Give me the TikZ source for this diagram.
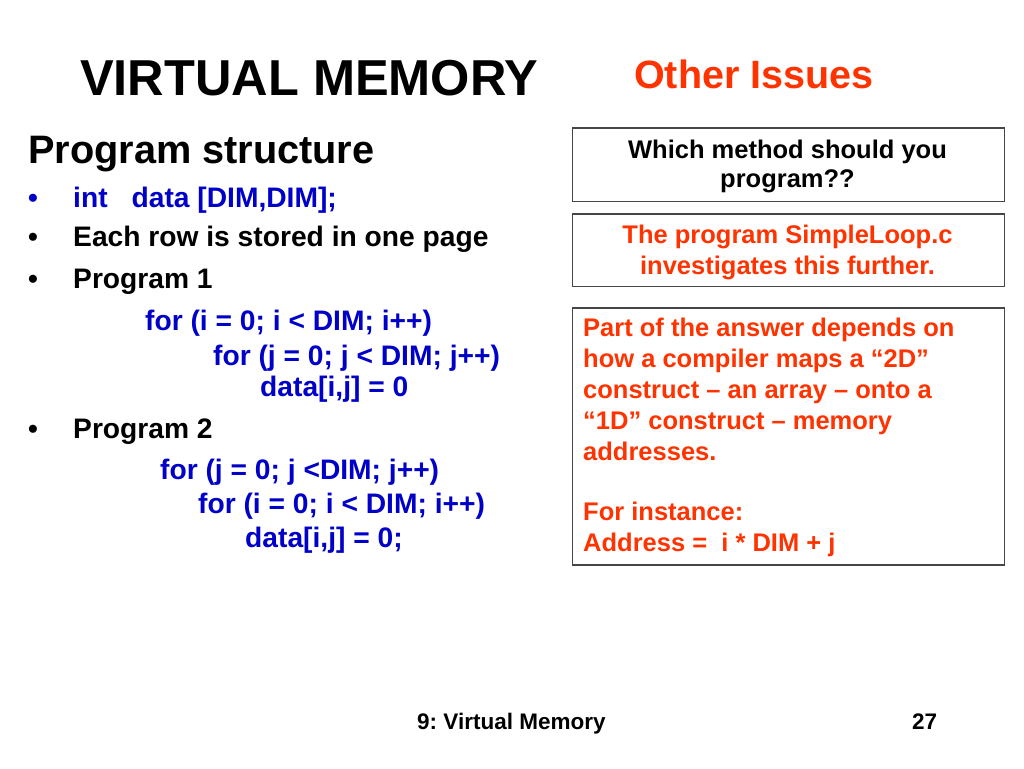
\documentclass[tikz,border=0pt]{standalone}
\usepackage{fontspec}
\setmainfont{Liberation Sans}
\frenchspacing
\definecolor{slred}{RGB}{255,51,0}
\definecolor{slblue}{RGB}{0,0,200}
\definecolor{boxgray}{RGB}{70,70,70}
\begin{document}
\begin{tikzpicture}[x=1pt,y=-1pt,
  txt/.style={anchor=base west, inner sep=0pt, font=\bfseries\fontsize{28.2}{34}\selectfont},
  code/.style={txt, text=slblue},
  bul/.style={anchor=base west, inner sep=0pt, font=\bfseries\fontsize{28}{34}\selectfont},
  btxt/.style={anchor=base, inner sep=0pt, font=\bfseries\fontsize{25.5}{31}\selectfont},
  rtxt/.style={anchor=base west, inner sep=0pt, text=slred, font=\bfseries\fontsize{25.5}{31}\selectfont},
  panel/.style={draw=boxgray, line width=1.3pt, fill=white, anchor=north west, inner sep=0pt}]
\useasboundingbox[fill=white] (0,0) rectangle (1024,768);

% titles
\node[txt, font=\bfseries\fontsize{50.5}{60}\selectfont] (title) at (80,95) {VIRTUAL MEMORY};
\node[txt, text=slred, font=\bfseries\fontsize{39.5}{47}\selectfont] (sub) at (634,88) {Other Issues};

% left column
\node[txt, font=\bfseries\fontsize{39.7}{47}\selectfont] (ps) at (28,163.5) {Program structure};
\node[bul, text=slblue] (b1) at (28,207.5) {•};
\node[code] (l1) at (73,207.5) {int\hspace{24pt}data [DIM,DIM];};
\node[bul] (b2) at (28,246.7) {•};
\node[txt] (l2) at (73,246.7) {Each row is stored in one page};
\node[bul] (b3) at (28,288.3) {•};
\node[txt] (l3) at (73,288.3) {Program 1};
\node[code] (c1) at (145,330) {for (i = 0; i < DIM; i++)};
\node[code] (c2) at (213,365.5) {for (j = 0; j < DIM; j++)};
\node[code] (c3) at (260,396.5) {data[i,j] = 0};
\node[bul] (b4) at (28,438.5) {•};
\node[txt] (l4) at (73,438.5) {Program 2};
\node[code] (c4) at (160,479) {for (j = 0; j <DIM; j++)};
\node[code] (c5) at (198,513.3) {for (i = 0; i < DIM; i++)};
\node[code] (c6) at (245,547.5) {data[i,j] = 0;};

% right column boxes
\node[panel, minimum width=431.5, minimum height=73.5] (box1) at (572,127.3) {};
\node[btxt] (q1) at (787.5,158) {Which method should you};
\node[btxt] (q2) at (787.5,187) {program??};

\node[panel, minimum width=431.5, minimum height=72.5] (box2) at (572,213.3) {};
\node[btxt, text=slred] (s1) at (787.5,243.5) {The program SimpleLoop.c};
\node[btxt, text=slred] (s2) at (787.5,274) {investigates this further.};

\node[panel, minimum width=431.5, minimum height=257] (box3) at (572,307.3) {};
\node[rtxt] (a1) at (583,336.7) {Part of the answer depends on};
\node[rtxt] (a2) at (583,367.7) {how a compiler maps a “2D”};
\node[rtxt] (a3) at (583,398.3) {construct – an array – onto a};
\node[rtxt] (a4) at (583,429) {“1D” construct – memory};
\node[rtxt] (a5) at (583,460) {addresses.};
\node[rtxt] (a6) at (583,520.5) {For instance:};
\node[rtxt] (a7) at (583,551.7) {Address =\ \ i * DIM + j};

% footer
\node[txt, font=\bfseries\fontsize{22.5}{27}\selectfont] (f1) at (417,729) {9: Virtual Memory};
\node[txt, font=\bfseries\fontsize{22.5}{27}\selectfont] (f2) at (912,729) {27};
\end{tikzpicture}
\end{document}
